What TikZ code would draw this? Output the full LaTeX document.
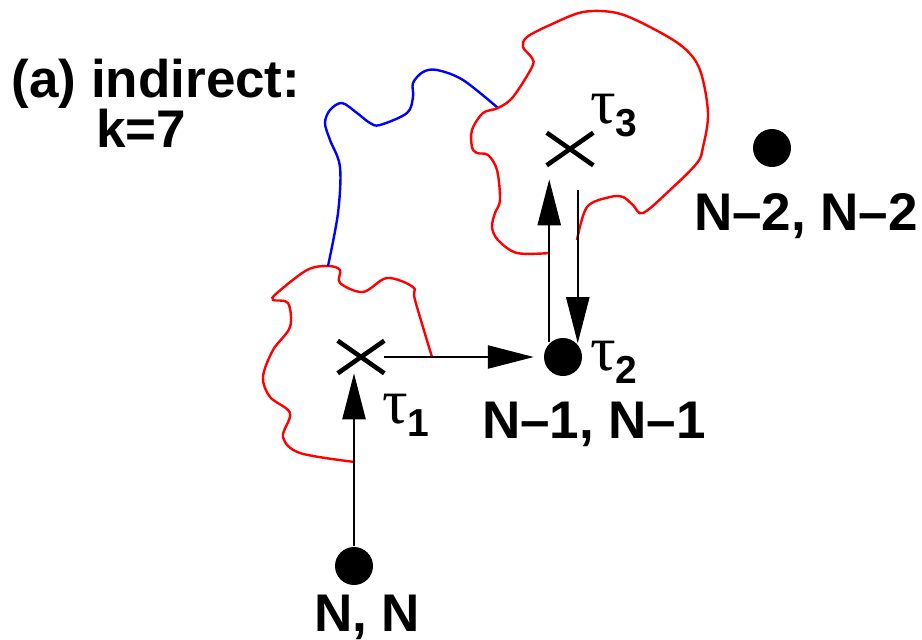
\documentclass[tikz,border=0pt]{standalone}
\usepackage{fontspec}
\setmainfont{Liberation Sans}
\newfontfamily\taufont{Liberation Serif}
\usepackage{tikz}
\usetikzlibrary{positioning}
\usetikzlibrary{shapes,arrows.meta}

\newcommand{\tauidx}[1]{{\fontsize{32}{32}\mdseries\taufont τ}\raisebox{-6.5pt}{\fontsize{19.5}{19.5}\selectfont\bfseries #1}}

\tikzset{
	site/.style={circle, fill, inner sep=0pt, minimum size=19pt},
	saddle/.style={cross out, draw, line width=2.3pt, inner sep=0pt, minimum width=21pt, minimum height=14pt},
	lbl/.style={inner sep=0pt, font=\bfseries\fontsize{26.5}{30}\selectfont},
	tlbl/.style={inner sep=0pt, font=\bfseries},
	wall/.style={red, line width=1.2pt},
	bridge/.style={blue, line width=1.2pt}
}

\begin{document}
\begin{tikzpicture}[x=0.5pt, y=-0.5pt, line width=1.2pt, >={Triangle[length=23pt,width=11.5pt]}]
	\useasboundingbox (0,0) rectangle (922,639);

	\node[site] (nn) at (354,566) {};
	\node[saddle] (t1) at (361,357) {};
	\node[site] (n1) at (563,357) {};
	\node[saddle] (t3) at (570,149) {};
	\node[site] (n2) at (772,148) {};

	\node[lbl] (nnlbl) [below=4pt of nn, xshift=6.5pt] {N, N};
	\node[lbl] (n1lbl) [below=12pt of n1, xshift=15.5pt] {N–1, N–1};
	\node[lbl] (n2lbl) [below=12pt of n2, xshift=17pt] {N–2, N–2};

	\node[lbl, anchor=base] (title) at (156,97) {(a) indirect:};
	\node[lbl, anchor=base] (kval) at (141,147) {k=7};

	\node[tlbl, anchor=base west] (tau1) at ([xshift=10pt, yshift=-33pt]t1.center) {\tauidx{1}};
	\node[tlbl, anchor=base west] (tau2) at ([xshift=13pt, yshift=-6.5pt]n1.center) {\tauidx{2}};
	\node[tlbl, anchor=base west] (tau3) at ([xshift=9.5pt, yshift=13pt]t3.center) {\tauidx{3}};

	% basin boundaries
	\draw[wall] plot[smooth, tension=0.55] coordinates {(355,462) (300,453) (283,437) (290,413) (270,397) (263,377) (273,350) (290,327) (288,303) (273,300) (277,293) (307,270) (328,266) (340,270) (340,283) (363,292) (387,278) (413,287) (415,300) (432,357)};
	\draw[bridge] plot[smooth, tension=0.55] coordinates {(328,266) (338,213) (340,167) (330,140) (325,123) (330,110) (342,103) (357,113) (370,123) (380,125) (407,113) (413,97) (413,83) (423,72) (437,70) (463,80) (498,108)};
	\draw[wall] plot[smooth, tension=0.55] coordinates {(550,253) (517,253) (498,240) (492,227) (495,213) (500,200) (497,170) (488,155) (477,153) (472,147) (472,130) (483,113) (498,108) (513,97) (532,67) (532,58) (523,47) (527,37) (550,25) (583,12) (617,13) (650,27) (683,47) (700,70) (708,113) (703,147) (697,163) (670,190) (643,213) (633,205) (623,197) (610,197) (587,207) (577,240)};

	\path[draw, ->] (nn.north) -- (nn |- t1.south);
	\path[draw, ->, shorten >=4.5pt] (t1.east) -- (n1.west);
	\path[draw, ->, shorten >=7pt] (n1.133) -- (n1.133 |- t3.south);
	\path[draw, ->, shorten <=12.5pt] (n1.43 |- t3.south) -- (n1.43);

\end{tikzpicture}
\end{document}
